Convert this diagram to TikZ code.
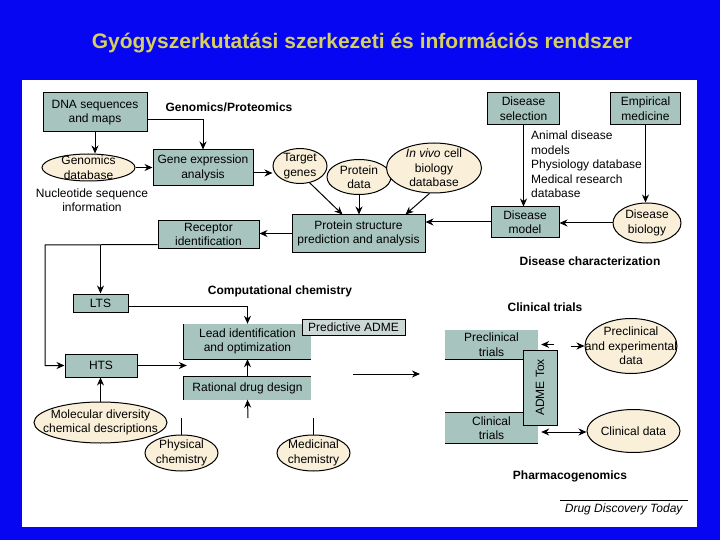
\documentclass[tikz,border=0pt]{standalone}
\usepackage{fontspec}
\setmainfont{Liberation Sans}
\usepackage{tikz}
\usetikzlibrary{arrows.meta,calc,shapes.geometric}
\definecolor{slideblue}{RGB}{6,6,242}
\definecolor{titleyellow}{RGB}{214,208,96}
\definecolor{boxgray}{RGB}{168,196,190}
\definecolor{admegray}{RGB}{204,216,214}
\definecolor{ovalcream}{RGB}{250,240,218}
\newcommand{\labfont}{\fontsize{12}{14.5}\selectfont}
\tikzset{
    flow line/.style={line width=1pt,draw=black,
      -{Stealth[length=8pt,width=7pt]}},
    plain line/.style={line width=1pt,draw=black},
    gray box/.style={rectangle,draw=black,line width=1pt,fill=boxgray,
      inner sep=1pt,align=center,font=\labfont},
    open box/.style={rectangle,fill=boxgray,inner sep=1pt,align=center,
      font=\labfont},
    data oval/.style={ellipse,draw=black,line width=1pt,fill=ovalcream,
      inner sep=0pt},
    oval text/.style={align=center,font=\labfont,inner sep=0pt},
    stage label/.style={font=\labfont\bfseries}
}

\begin{document}
\begin{tikzpicture}[x=1pt,y=-1pt]
  \useasboundingbox (0,0) rectangle (720,540);
  \fill[slideblue] (0,0) rectangle (720,540);
  \fill[white] (22,80) rectangle (697,527);
  \node[font=\fontsize{21}{25}\selectfont\bfseries,text=titleyellow]
  (title) at (362,43) {Gyógyszerkutatási szerkezeti és információs rendszer};

  % genomics
  \node[gray box,minimum width=104pt,minimum height=39pt] (dna)
  at (95,112.5) {DNA sequences\\and maps};
  \node[data oval,minimum width=93pt,minimum height=27pt,
    label={[oval text]center:Genomics\\database}] (gendb) at (88.5,167.5) {};
  \node[align=center,font=\labfont] (nucinfo) at (92,200)
  {Nucleotide sequence\\information};
  \node[gray box,minimum width=100pt,minimum height=36pt] (geneexp)
  at (203,168) {Gene expression\\analysis};
  \node[data oval,minimum width=54pt,minimum height=35pt,
    label={[oval text]center:Target\\genes}] (target) at (300,166) {};
  \node[data oval,minimum width=64pt,minimum height=35pt,
    label={[oval text]center:Protein\\data}] (protdata) at (359,177) {};
  \node[data oval,minimum width=95pt,minimum height=50pt,
    label={[oval text]center:\textit{In vivo} cell\\biology\\database}]
  (invivo) at (434,168) {};
  \node[gray box,minimum width=133pt,minimum height=37pt] (protstruct)
  at (358.5,233.5) {Protein structure\\prediction and analysis};
  \node[gray box,minimum width=101pt,minimum height=27pt] (receptor)
  at (208.5,234.5) {Receptor\\identification};
  \node[stage label] (genlab) at (229,107) {Genomics/Proteomics};

  % disease
  \node[gray box,minimum width=72pt,minimum height=32pt] (dissel)
  at (523.5,108.5) {Disease\\selection};
  \node[gray box,minimum width=70pt,minimum height=32pt] (empirical)
  at (645.5,108.5) {Empirical\\medicine};
  \node[align=left,font=\labfont,anchor=north west,inner sep=0pt]
  (dismodels) at (531,131)
  {Animal disease\\models\\Physiology database\\Medical research\\database};
  \node[gray box,minimum width=68pt,minimum height=30pt] (dismodel)
  at (525,222) {Disease\\model};
  \node[data oval,minimum width=68pt,minimum height=40pt,
    label={[oval text]center:Disease\\biology}] (disbio) at (647,223) {};
  \node[stage label] (dislab) at (590,261) {Disease characterization};

  % chemistry
  \node[gray box,minimum width=55pt,minimum height=18pt] (lts)
  at (100.5,303) {LTS};
  \node[gray box,minimum width=72pt,minimum height=23pt] (hts)
  at (101,365.5) {HTS};
  \node[open box,minimum width=127pt,minimum height=35pt] (lead)
  at (247.5,341.5) {Lead identification\\and optimization};
  \node[gray box,fill=admegray,minimum width=103pt,minimum height=16pt]
  (predadme) at (353.5,327) {Predictive ADME};
  \node[open box,minimum width=127pt,minimum height=23pt] (rational)
  at (247.5,388) {Rational drug design};
  \node[data oval,minimum width=133pt,minimum height=41pt,
    label={[oval text]center:Molecular diversity\\chemical descriptions}]
  (moldiv) at (100.5,422.5) {};
  \node[data oval,minimum width=73pt,minimum height=36pt,
    label={[oval text]center:Physical\\chemistry}] (physchem) at (181.5,453) {};
  \node[data oval,minimum width=73pt,minimum height=36pt,
    label={[oval text]center:Medicinal\\chemistry}] (medchem) at (313.5,453) {};
  \node[stage label] (complab) at (280,291) {Computational chemistry};
  \draw[plain line] (lead.north west) -- (lead.south west) -- (lead.south east);
  \draw[plain line] (rational.south west) -- (rational.north west)
  -- (rational.north east);

  % clinical
  \node[open box,minimum width=93pt,minimum height=29pt] (pretrial)
  at (491.5,344.5) {Preclinical\\trials};
  \node[open box,minimum width=93pt,minimum height=30pt] (clintrial)
  at (491.5,428) {Clinical\\trials};
  \draw[plain line] (pretrial.south west) -- (pretrial.south east);
  \draw[plain line] (clintrial.north west) -- (clintrial.north east);
  \draw[plain line] (clintrial.south west) -- (clintrial.south east);
  \node[gray box,minimum width=75pt,minimum height=34pt,rotate=90]
  (admetox) at (540,387.5) {ADME Tox};
  \node[data oval,minimum width=92pt,minimum height=55pt,
    label={[oval text]center:Preclinical\\and experimental\\data}]
  (predata) at (631,346) {};
  \node[data oval,minimum width=93pt,minimum height=43pt,
    label={[oval text]center:Clinical data}] (clindata) at (633.5,431) {};
  \node[stage label] (clinlab) at (545,307) {Clinical trials};
  \node[stage label] (pharmlab) at (570,476) {Pharmacogenomics};

  \node[font=\labfont\itshape,anchor=east] (ddt) at (686,509)
  {Drug Discovery Today};
  \draw[line width=0.5pt] ($(ddt.north west)+(-1,0)$)
  -- ($(ddt.north east)+(2,0)$);

  % links
  \draw[flow line] (dna.south) -- (dna.south |- gendb.north);
  \draw[flow line] ($(dna.east)+(0,7)$) -| (geneexp.north);
  \draw[flow line] (gendb.east) -- (gendb.east -| geneexp.west);
  \draw[flow line] ($(geneexp.east)+(0,5)$) -- ($(geneexp.east -| target.west)+(0,5)$);
  \draw[flow line] (target.-60) -- ($(protstruct.north)+(-16,0)$);
  \draw[flow line] (protdata.south) -- (protdata.south |- protstruct.north);
  \draw[flow line] (invivo.-100) -- ($(protstruct.north)+(47,0)$);
  \draw[flow line] (dismodel.west) -- (dismodel.west -| protstruct.east);
  \draw[flow line] (protstruct.west) -- (protstruct.west -| receptor.east);
  \draw[flow line] (dissel.south) -- (dismodel.north -| dissel.south);
  \draw[flow line] (empirical.south) -- (disbio.north -| empirical.south);
  \draw[flow line] (disbio.west) -- (disbio.west -| dismodel.east);

  \coordinate (rail) at (45,245);
  \draw[flow line] ($(receptor.west)+(0,10)$) -- (rail) |- (hts.west);
  \draw[flow line] (lts.north |- rail) -- (lts.north);
  \draw[flow line] ($(lts.east)+(0,3)$) -| (lead.north);
  \draw[flow line] (hts.east) -- ($(hts.east -| lead.west)+(3,0)$);
  \draw[flow line] (moldiv.north) -- (moldiv.north |- hts.south);
  \draw[flow line] (rational.north) -- (lead.south);
  \coordinate (chemjoin) at (248,418);
  \draw[flow line] (chemjoin) -- (rational.south);
  \draw[plain line] (physchem.north) -- ++(0,-17);
  \draw[plain line] (medchem.north) -- ++(0,-17);
  \coordinate (midfrom) at (353,374);
  \coordinate (midto) at (420,374);
  \draw[flow line] (midfrom) -- (midto);

  \draw[flow line] ($(pretrial.east)+(16,0)$) -- ($(pretrial.east)+(3,0)$);
  \draw[flow line] ($(predata.west)+(-14,0)$) -- (predata.west);
  \draw[flow line,{Stealth[length=8pt,width=7pt]}-{Stealth[length=8pt,width=7pt]}]
  ($(clintrial.east)+(3,4)$) -- ($(clintrial.east -| clindata.west)+(0,4)$);
\end{tikzpicture}
\end{document}
